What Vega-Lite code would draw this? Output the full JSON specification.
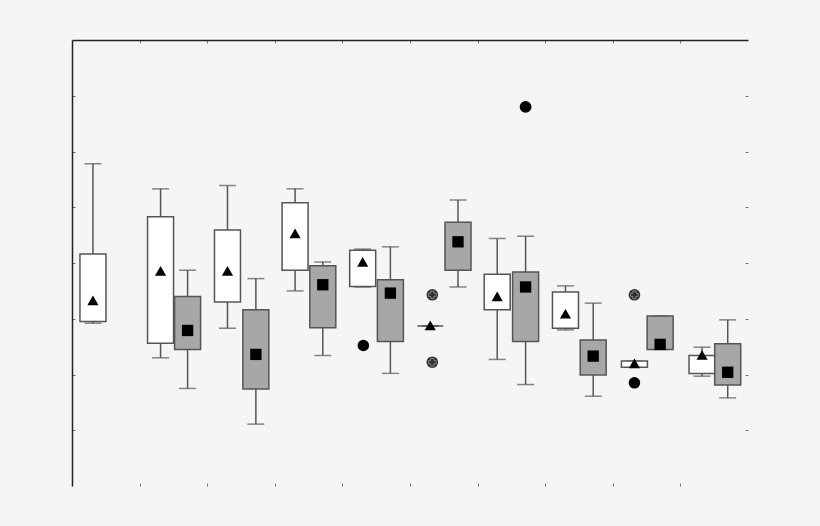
{
  "$schema": "https://vega.github.io/schema/vega-lite/v6.json",
  "width": 676,
  "height": 446,
  "autosize": {"type": "none"},
  "padding": {"left": 72, "top": 40, "right": 72, "bottom": 40},
  "background": "#f5f5f5",
  "config": {
    "view": {"stroke": null},
    "axis": {"labels": false, "grid": false, "title": null, "domainColor": "#222222", "domainWidth": 1.5, "tickColor": "#777777", "tickSize": -3, "tickWidth": 1}
  },
  "datasets": {
    "boxes": [
      {"grp": 1, "kind": "A", "pos": 0.31, "lo": 2.92, "q1": 2.95, "q3": 4.16, "hi": 5.78, "mean": 3.33},
      {"grp": 2, "kind": "A", "pos": 1.31, "lo": 2.30, "q1": 2.56, "q3": 4.83, "hi": 5.33, "mean": 3.86},
      {"grp": 2, "kind": "B", "pos": 1.71, "lo": 1.75, "q1": 2.45, "q3": 3.40, "hi": 3.87, "mean": 2.79},
      {"grp": 3, "kind": "A", "pos": 2.30, "lo": 2.83, "q1": 3.30, "q3": 4.59, "hi": 5.39, "mean": 3.86},
      {"grp": 3, "kind": "B", "pos": 2.72, "lo": 1.11, "q1": 1.74, "q3": 3.16, "hi": 3.72, "mean": 2.36},
      {"grp": 4, "kind": "A", "pos": 3.30, "lo": 3.50, "q1": 3.87, "q3": 5.08, "hi": 5.33, "mean": 4.53},
      {"grp": 4, "kind": "B", "pos": 3.71, "lo": 2.34, "q1": 2.84, "q3": 3.95, "hi": 4.02, "mean": 3.61},
      {"grp": 5, "kind": "A", "pos": 4.30, "lo": 3.57, "q1": 3.58, "q3": 4.23, "hi": 4.25, "mean": 4.02},
      {"grp": 5, "kind": "B", "pos": 4.71, "lo": 2.02, "q1": 2.59, "q3": 3.70, "hi": 4.29, "mean": 3.46},
      {"grp": 6, "kind": "A", "pos": 5.30, "lo": 2.87, "q1": 2.87, "q3": 2.87, "hi": 2.87, "mean": 2.88},
      {"grp": 6, "kind": "B", "pos": 5.71, "lo": 3.57, "q1": 3.87, "q3": 4.73, "hi": 5.13, "mean": 4.38},
      {"grp": 7, "kind": "A", "pos": 6.29, "lo": 2.27, "q1": 3.16, "q3": 3.80, "hi": 4.44, "mean": 3.40},
      {"grp": 7, "kind": "B", "pos": 6.71, "lo": 1.82, "q1": 2.59, "q3": 3.84, "hi": 4.48, "mean": 3.57},
      {"grp": 8, "kind": "A", "pos": 7.30, "lo": 2.80, "q1": 2.83, "q3": 3.48, "hi": 3.59, "mean": 3.09},
      {"grp": 8, "kind": "B", "pos": 7.71, "lo": 1.61, "q1": 1.99, "q3": 2.62, "hi": 3.28, "mean": 2.33},
      {"grp": 9, "kind": "A", "pos": 8.32, "lo": 2.13, "q1": 2.13, "q3": 2.24, "hi": 2.24, "mean": 2.20},
      {"grp": 9, "kind": "B", "pos": 8.70, "lo": 2.45, "q1": 2.45, "q3": 3.05, "hi": 3.05, "mean": 2.54},
      {"grp": 10, "kind": "A", "pos": 9.32, "lo": 1.97, "q1": 2.02, "q3": 2.34, "hi": 2.49, "mean": 2.35},
      {"grp": 10, "kind": "B", "pos": 9.70, "lo": 1.58, "q1": 1.81, "q3": 2.55, "hi": 2.98, "mean": 2.04}
    ],
    "outliers": [
      {"grp": 5, "pos": 4.31, "v": 2.52, "type": "solid"},
      {"grp": 6, "pos": 5.33, "v": 3.43, "type": "hatched"},
      {"grp": 6, "pos": 5.33, "v": 2.22, "type": "hatched"},
      {"grp": 7, "pos": 6.71, "v": 6.80, "type": "far"},
      {"grp": 9, "pos": 8.32, "v": 3.43, "type": "hatched"},
      {"grp": 9, "pos": 8.32, "v": 1.85, "type": "solid"}
    ]
  },
  "resolve": {"axis": {"x": "independent", "y": "independent"}},
  "layer": [
    {
      "data": {"name": "boxes"},
      "mark": {"type": "rule", "color": "#555555", "strokeWidth": 1.5},
      "encoding": {
        "x": {"field": "pos", "type": "quantitative", "scale": {"domain": [0, 10], "nice": false, "zero": false, "padding": 0},
              "axis": {"orient": "bottom", "domain": false, "values": [1, 2, 3, 4, 5, 6, 7, 8, 9]}},
        "y": {"field": "lo", "type": "quantitative", "scale": {"domain": [0, 8], "nice": false, "zero": false, "padding": 0},
              "axis": {"orient": "left", "domain": true, "values": [1, 2, 3, 4, 5, 6, 7]}},
        "y2": {"field": "hi"}
      }
    },
    {
      "data": {"name": "boxes"},
      "mark": {"type": "tick", "orient": "horizontal", "size": 17, "thickness": 1.5, "color": "#555555"},
      "encoding": {
        "x": {"field": "pos", "type": "quantitative",
              "axis": {"orient": "top", "domain": true, "values": [1, 2, 3, 4, 5, 6, 7, 8, 9]}},
        "y": {"field": "hi", "type": "quantitative",
              "axis": {"orient": "right", "domain": false, "values": [1, 2, 3, 4, 5, 6, 7]}}
      }
    },
    {
      "data": {"name": "boxes"},
      "mark": {"type": "tick", "orient": "horizontal", "size": 17, "thickness": 1.5, "color": "#555555"},
      "encoding": {
        "x": {"field": "pos", "type": "quantitative", "axis": null},
        "y": {"field": "lo", "type": "quantitative", "axis": null}
      }
    },
    {
      "data": {"name": "boxes"},
      "mark": {"type": "bar", "size": 26, "stroke": "#555555", "strokeWidth": 1.5},
      "encoding": {
        "x": {"field": "pos", "type": "quantitative", "axis": null},
        "y": {"field": "q1", "type": "quantitative", "axis": null},
        "y2": {"field": "q3"},
        "fill": {"field": "kind", "type": "nominal", "scale": {"domain": ["A", "B"], "range": ["#ffffff", "#a7a7a9"]}, "legend": null}
      }
    },
    {
      "data": {"name": "boxes"},
      "mark": {"type": "point", "filled": true, "color": "#000000", "opacity": 1},
      "encoding": {
        "x": {"field": "pos", "type": "quantitative", "axis": null},
        "y": {"field": "mean", "type": "quantitative", "axis": null},
        "shape": {"field": "kind", "type": "nominal", "scale": {"domain": ["A", "B"], "range": ["triangle-up", "square"]}, "legend": null},
        "size": {"field": "kind", "type": "nominal", "scale": {"domain": ["A", "B"], "range": [125, 140]}, "legend": null}
      }
    },
    {
      "data": {"name": "outliers"},
      "mark": {"type": "point", "filled": true, "shape": "circle", "opacity": 1},
      "encoding": {
        "x": {"field": "pos", "type": "quantitative", "axis": null},
        "y": {"field": "v", "type": "quantitative", "axis": null},
        "color": {"field": "type", "type": "nominal", "scale": {"domain": ["solid", "hatched", "far"], "range": ["#000000", "#2e2e2e", "#000000"]}, "legend": null},
        "size": {"field": "type", "type": "nominal", "scale": {"domain": ["solid", "hatched", "far"], "range": [80, 100, 125]}, "legend": null}
      }
    },
    {
      "data": {"name": "outliers"},
      "transform": [{"filter": "datum.type === 'hatched'"}],
      "mark": {"type": "point", "shape": "cross", "filled": false, "stroke": "#9a9a9a", "strokeWidth": 0.8, "size": 60, "opacity": 1},
      "encoding": {
        "x": {"field": "pos", "type": "quantitative", "axis": null},
        "y": {"field": "v", "type": "quantitative", "axis": null}
      }
    }
  ]
}
